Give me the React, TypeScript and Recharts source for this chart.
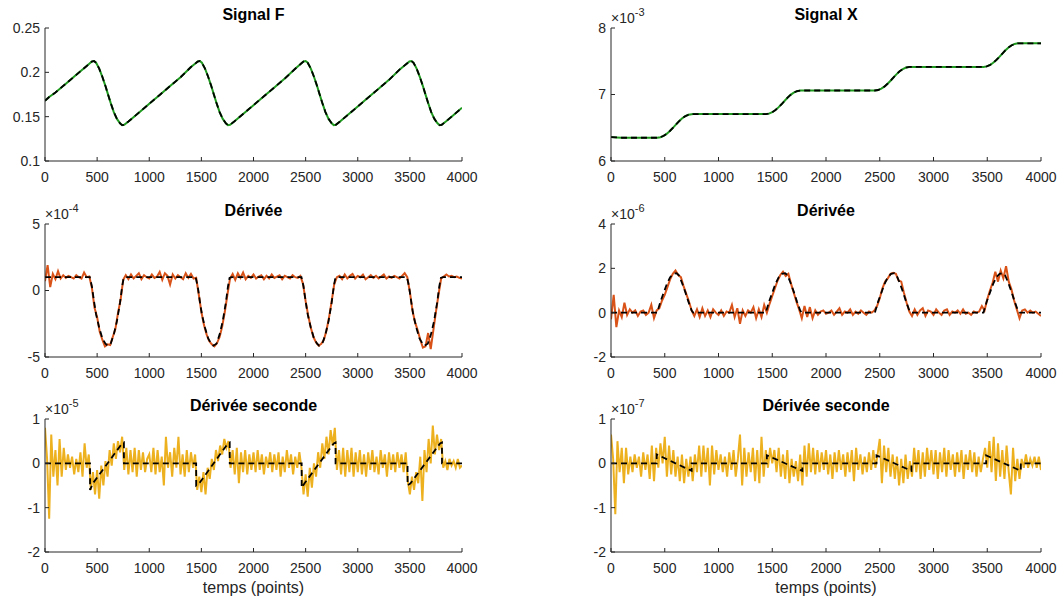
import React from "react";
import { LineChart, Line, XAxis, YAxis } from "recharts";

const xTicks = [0, 500, 1000, 1500, 2000, 2500, 3000, 3500, 4000];

// Signal F (green measured + black dashed estimate share the same trace)
const signalFTimes = [
  0, 40, 100, 200, 300, 400,
  430, 450, 470, 490, 520, 550, 580, 600, 630, 660, 690, 720, 740, 760, 800,
  900, 1000, 1100, 1200, 1300, 1400,
  1445, 1465, 1485, 1505, 1535, 1565, 1595, 1615, 1645, 1675, 1705, 1735, 1755, 1775, 1815,
  1900, 2000, 2100, 2200, 2300, 2400,
  2460, 2480, 2500, 2520, 2550, 2580, 2610, 2630, 2660, 2690, 2720, 2750, 2770, 2790, 2830,
  2900, 3000, 3100, 3200, 3300, 3400,
  3475, 3495, 3515, 3535, 3565, 3595, 3625, 3645, 3675, 3705, 3735, 3765, 3785, 3805, 3845,
  3900, 4000,
];
const signalFValues = [
  0.168, 0.1722, 0.1772, 0.1872, 0.1972, 0.2072,
  0.2102, 0.2122, 0.2128, 0.2108, 0.2042, 0.195, 0.1845, 0.1768, 0.1655, 0.1552, 0.1475, 0.1425, 0.1405, 0.1408, 0.1445,
  0.1545, 0.1645, 0.1745, 0.1845, 0.1945, 0.206,
  0.2102, 0.2122, 0.2128, 0.2108, 0.2042, 0.195, 0.1845, 0.1768, 0.1655, 0.1552, 0.1475, 0.1425, 0.1405, 0.1408, 0.1445,
  0.153, 0.163, 0.173, 0.183, 0.193, 0.204,
  0.2102, 0.2122, 0.2128, 0.2108, 0.2042, 0.195, 0.1845, 0.1768, 0.1655, 0.1552, 0.1475, 0.1425, 0.1405, 0.1408, 0.1445,
  0.1515, 0.1615, 0.1715, 0.1815, 0.1915, 0.203,
  0.2102, 0.2122, 0.2128, 0.2108, 0.2042, 0.195, 0.1845, 0.1768, 0.1655, 0.1552, 0.1475, 0.1425, 0.1405, 0.1408, 0.1445,
  0.15, 0.16,
];

// Signal X (x1e-3)
const signalXTimes = [
  0, 50, 100,
  430, 460, 490, 520, 550, 580, 610, 630, 660, 690, 720, 750, 765,
  1440, 1470, 1500, 1530, 1560, 1590, 1620, 1640, 1670, 1700, 1730, 1760, 1775,
  2455, 2485, 2515, 2545, 2575, 2605, 2635, 2655, 2685, 2715, 2745, 2775, 2790,
  3465, 3495, 3525, 3555, 3585, 3615, 3645, 3665, 3695, 3725, 3755, 3785, 3800,
  4000,
];
const signalXValues = [
  6.36, 6.355, 6.35,
  6.35, 6.3575, 6.3785, 6.4115, 6.455, 6.505, 6.558, 6.593, 6.639, 6.673, 6.695, 6.704, 6.705,
  6.705, 6.7125, 6.7335, 6.7665, 6.81, 6.86, 6.913, 6.948, 6.994, 7.028, 7.05, 7.059, 7.06,
  7.06, 7.0675, 7.0885, 7.1215, 7.165, 7.215, 7.268, 7.303, 7.349, 7.383, 7.405, 7.414, 7.415,
  7.415, 7.4225, 7.4435, 7.4765, 7.52, 7.57, 7.623, 7.658, 7.704, 7.738, 7.76, 7.769, 7.77,
  7.77,
];

// Derivative of F (x1e-4): measured every 25 points, estimate as breakpoints
const derivFStep = 25;
const derivFMeasured = [
  0.7, 1.9, 0.25, 1.25, 0.85, 1.45, 0.9, 1.15, 0.95, 1.1,
  1.0, 0.9, 1.15, 1.0, 0.9, 1.35, 1.0, 1.05, 0.2, -1.3,
  -2.0, -3.1, -3.7, -4.2, -4.05, -4.1, -3.5, -2.9, -1.7, -0.7,
  0.8, 1.15, 0.85, 1.2, 0.9, 1.1, 1.3, 0.85, 1.15, 1.0,
  0.9, 1.2, 0.95, 1.05, 1.4, 0.8, 1.3, 1.1, 0.45, 1.2,
  0.9, 1.15, 1.0, 0.85, 1.3, 0.95, 1.25, 0.9, 0.95, -0.3,
  -1.6, -2.6, -3.3, -3.8, -4.05, -4.2, -3.95, -3.5, -2.7, -1.6,
  -0.3, 0.9, 1.25, 0.8, 1.3, 0.95, 1.35, 0.85, 1.1, 0.95,
  1.2, 0.9, 1.05, 1.15, 0.85, 1.1, 0.9, 1.2, 0.95, 1.05,
  1.15, 0.85, 1.1, 1.0, 0.9, 1.15, 1.0, 0.95, 1.1, 0.5,
  -0.8, -1.9, -2.8, -3.5, -3.9, -4.15, -4.0, -3.7, -3.0, -2.0,
  -0.8, 0.5, 1.0, 1.1, 0.85, 1.2, 0.9, 1.1, 1.25, 0.9,
  1.1, 1.0, 1.2, 0.85, 1.0, 1.15, 0.95, 1.1, 0.9, 1.05,
  1.2, 0.9, 1.05, 0.95, 1.1, 1.0, 0.9, 1.1, 1.3, 1.0,
  -0.1, -1.5, -2.4, -3.0, -3.7, -4.3, -4.2, -3.2, -4.4, -3.0,
  -1.6, -0.3, 0.9, 1.05, 1.2, 1.05, 1.1, 1.0, 1.05, 0.95,
  0.9,
];
const derivFEstTimes = [
  0,
  430, 450, 470, 490, 520, 550, 580, 600, 630, 660, 690, 720, 740, 755, 775,
  1445, 1465, 1485, 1505, 1535, 1565, 1595, 1615, 1645, 1675, 1705, 1735, 1755, 1770, 1790,
  2460, 2480, 2500, 2520, 2550, 2580, 2610, 2630, 2660, 2690, 2720, 2750, 2770, 2785, 2805,
  3472, 3492, 3512, 3532, 3562, 3592, 3622, 3642, 3672, 3702, 3732, 3762, 3782, 3797, 3817,
  4000,
];
const derivFEstValues = [
  1,
  1.0, 0.3, -0.8, -1.8, -2.8, -3.6, -4.0, -4.15, -4.0, -3.3, -2.3, -0.9, 0.3, 0.95, 1.0,
  1.0, 0.3, -0.8, -1.8, -2.8, -3.6, -4.0, -4.15, -4.0, -3.3, -2.3, -0.9, 0.3, 0.95, 1.0,
  1.0, 0.3, -0.8, -1.8, -2.8, -3.6, -4.0, -4.15, -4.0, -3.3, -2.3, -0.9, 0.3, 0.95, 1.0,
  1.0, 0.3, -0.8, -1.8, -2.8, -3.6, -4.0, -4.15, -4.0, -3.3, -2.3, -0.9, 0.3, 0.95, 1.0,
  1,
];

// Derivative of X (x1e-6)
const derivXStep = 25;
const derivXMeasured = [
  -0.3, 0.8, -0.65, 0.1, -0.2, 0.45, -0.1, 0.15, 0.0, 0.1,
  -0.15, 0.05, 0.1, -0.1, 0.0, 0.35, -0.25, 0.1, 0.2, 0.55,
  0.8, 1.15, 1.5, 1.75, 1.9, 1.7, 1.6, 1.2, 0.85, 0.5,
  0.1, -0.15, 0.15, -0.2, 0.2, -0.15, 0.1, -0.2, 0.15, 0.0,
  -0.1, 0.1, -0.15, 0.05, 0.0, 0.35, -0.2, 0.2, -0.5, 0.1,
  -0.15, 0.1, 0.0, 0.25, -0.25, 0.15, -0.2, 0.35, 0.0, 0.4,
  0.75, 1.1, 1.45, 1.7, 1.85, 1.65, 1.75, 1.3, 0.9, 0.5,
  0.15, -0.25, 0.3, -0.2, 0.25, -0.25, 0.1, -0.1, 0.05, 0.1,
  -0.05, 0.0, 0.1, -0.1, 0.05, 0.2, -0.1, 0.05, 0.0, 0.15,
  -0.1, 0.05, -0.05, 0.1, 0.0, -0.1, 0.05, 0.0, 0.1, 0.3,
  0.65, 1.1, 1.4, 1.55, 1.75, 1.8, 1.75, 1.45, 1.4, 0.9,
  0.45, 0.05, -0.15, 0.15, -0.1, 0.1, 0.2, -0.15, 0.1, 0.05,
  -0.1, 0.15, 0.0, -0.1, 0.1, 0.15, -0.1, 0.05, 0.0, 0.1,
  -0.05, 0.15, -0.05, 0.0, -0.1, 0.05, 0.0, 0.05, 0.3, 0.1,
  0.6, 1.0, 1.35, 1.85, 1.4, 1.9, 1.55, 2.1, 1.4, 1.05,
  0.55, 0.15, -0.25, 0.1, 0.15, 0.0, 0.1, 0.0, 0.05, -0.05,
  -0.15,
];
const derivXEstTimes = [
  0,
  430, 460, 490, 520, 550, 580, 610, 630, 660, 690, 720, 750, 765,
  1440, 1470, 1500, 1530, 1560, 1590, 1620, 1640, 1670, 1700, 1730, 1760, 1775,
  2455, 2485, 2515, 2545, 2575, 2605, 2635, 2655, 2685, 2715, 2745, 2775, 2790,
  3465, 3495, 3525, 3555, 3585, 3615, 3645, 3665, 3695, 3725, 3755, 3785, 3800,
  4000,
];
const derivXEstValues = [
  0,
  0, 0.5, 0.9, 1.3, 1.6, 1.75, 1.78, 1.7, 1.35, 0.95, 0.5, 0.1, 0,
  0, 0.5, 0.9, 1.3, 1.6, 1.75, 1.78, 1.7, 1.35, 0.95, 0.5, 0.1, 0,
  0, 0.5, 0.9, 1.3, 1.6, 1.75, 1.78, 1.7, 1.35, 0.95, 0.5, 0.1, 0,
  0, 0.5, 0.9, 1.3, 1.6, 1.75, 1.78, 1.7, 1.35, 0.95, 0.5, 0.1, 0,
  0,
];

// Second derivative of F (x1e-5), measured every 20 points
const deriv2FStep = 20;
const deriv2FMeasured = [
  0.8, 0.1, -1.25, 0.65, -0.3, 0.3, -0.5, 0.55, -0.3, 0.35,
  -0.15, 0.2, -0.1, 0.15, -0.25, 0.1, -0.2, 0.25, -0.3, 0.45,
  -0.1, 0.2, -0.6, -0.2, -0.7, -0.15, -0.8, -0.05, -0.5, 0.05,
  -0.3, 0.3, -0.05, 0.45, 0.1, 0.5, 0.25, 0.6, -0.15, 0.35,
  -0.25, 0.3, -0.2, 0.35, -0.3, 0.3, -0.15, 0.25, -0.2, 0.1,
  0.2, -0.2, 0.35, -0.25, 0.3, -0.2, 0.15, -0.5, 0.6, -0.1,
  0.25, -0.3, 0.35, -0.1, 0.6, -0.25, 0.2, -0.3, 0.3, -0.2,
  0.25, -0.1, 0.2, -0.6, -0.3, -0.65, -0.2, -0.7, -0.1, -0.35,
  0.1, -0.15, 0.3, 0.05, 0.4, 0.2, 0.55, 0.35, 0.5, -0.1,
  0.3, -0.25, 0.35, -0.45, 0.25, -0.2, 0.3, -0.25, 0.2, -0.15,
  0.25, -0.2, 0.3, -0.15, 0.2, -0.25, 0.15, -0.1, 0.25, -0.2,
  0.2, -0.15, 0.25, -0.3, 0.15, -0.2, 0.3, -0.1, 0.2, -0.25,
  0.15, -0.1, 0.25, -0.1, -0.7, -0.25, -0.75, -0.1, -0.55, 0.0,
  -0.3, 0.25, -0.1, 0.45, 0.1, 0.6, 0.2, 0.75, 0.4, 0.8,
  -0.15, 0.3, -0.25, 0.35, -0.3, 0.3, -0.2, 0.35, -0.3, 0.25,
  -0.2, 0.3, -0.25, 0.2, -0.3, 0.25, -0.15, 0.3, -0.2, 0.15,
  -0.25, 0.3, -0.1, 0.2, -0.3, 0.25, -0.15, 0.2, -0.2, 0.25,
  -0.1, 0.2, -0.2, 0.25, -0.4, -0.7, -0.3, -0.6, -0.2, -0.45,
  0.15, -0.85, 0.3, -0.2, 0.55, 0.0, 0.85, 0.2, 0.65, 0.3,
  0.55, -0.1, 0.05, -0.15, 0.1, -0.05, 0.05, -0.1, 0.1, -0.1,
  -0.05,
];
const deriv2FEstTimes = [
  0, 432, 432, 460, 740, 757, 757,
  1450, 1450, 1480, 1755, 1772, 1772,
  2462, 2462, 2490, 2770, 2787, 2787,
  3478, 3478, 3506, 3790, 3808, 3808, 4000,
];
const deriv2FEstValues = [
  0, 0, -0.6, -0.45, 0.45, 0.47, 0,
  0, -0.5, -0.45, 0.45, 0.47, 0,
  0, -0.55, -0.45, 0.45, 0.47, 0,
  0, -0.5, -0.45, 0.45, 0.47, 0, 0,
];

// Second derivative of X (x1e-7)
const deriv2XStep = 20;
const deriv2XMeasured = [
  0.65, 0.1, -1.15, 0.5, -0.2, 0.35, -0.45, 0.35, -0.25, 0.15,
  -0.2, 0.2, -0.1, 0.15, -0.3, 0.25, -0.15, 0.2, -0.35, 0.4,
  -0.4, 0.35, -0.1, 0.45, 0.0, 0.6, -0.3, 0.4, -0.25, 0.3,
  -0.3, 0.15, -0.4, 0.2, -0.45, 0.1, -0.3, 0.15, -0.4, 0.2,
  -0.2, 0.4, -0.3, 0.4, -0.2, 0.35, -0.5, 0.4, -0.25, 0.3,
  -0.15, 0.2, -0.2, 0.15, -0.3, 0.25, -0.15, 0.3, -0.3, 0.1,
  0.65, -0.5, 0.35, -0.3, 0.25, -0.2, 0.35, -0.4, 0.3, -0.45,
  0.6, -0.3, 0.3, -0.1, 0.35, 0.0, 0.3, -0.2, 0.35, -0.3,
  0.2, -0.35, 0.3, -0.45, 0.1, -0.3, 0.05, -0.4, 0.2, -0.5,
  0.4, -0.3, 0.45, -0.2, 0.35, -0.25, 0.3, -0.2, 0.25, -0.15,
  0.3, -0.25, 0.2, -0.35, 0.25, -0.2, 0.3, -0.15, 0.2, -0.3,
  0.25, -0.2, 0.3, -0.4, 0.35, -0.15, 0.2, -0.25, 0.15, -0.2,
  0.25, -0.15, 0.3, -0.1, 0.2, 0.55, -0.45, 0.4, -0.2, 0.35,
  -0.3, 0.2, -0.35, 0.15, -0.5, 0.1, -0.45, 0.2, -0.35, 0.05,
  -0.3, 0.35, -0.2, 0.3, -0.35, 0.25, -0.3, 0.35, -0.15, 0.3,
  -0.25, 0.3, -0.35, 0.25, -0.2, 0.35, -0.3, 0.3, -0.15, 0.2,
  -0.3, 0.25, -0.2, 0.3, -0.35, 0.2, -0.15, 0.3, -0.2, 0.25,
  -0.3, 0.15, -0.2, 0.1, 0.35, -0.1, 0.5, -0.2, 0.6, -0.4,
  0.45, -0.3, 0.3, -0.35, 0.4, -0.2, -0.7, 0.35, -0.4, 0.1,
  -0.35, 0.1, -0.1, 0.2, -0.1, 0.1, -0.05, 0.15, -0.1, 0.15,
  -0.15,
];
const deriv2XEstTimes = [
  0, 425, 425, 750, 750,
  1450, 1450, 1780, 1780,
  2470, 2470, 2795, 2795,
  3490, 3490, 3812, 3812, 4000,
];
const deriv2XEstValues = [
  0, 0, 0.2, -0.17, 0,
  0, 0.18, -0.17, 0,
  0, 0.18, -0.17, 0,
  0, 0.18, -0.17, 0, 0,
];

type Pt = { t: number; v: number };
const pairUp = (ts: number[], vs: number[]): Pt[] => ts.map((t, i) => ({ t, v: vs[i] }));
const sampled = (step: number, vs: number[]): Pt[] => vs.map((v, i) => ({ t: i * step, v }));

const GREEN = "#1f9a1f";
const ORANGE = "#D95319";
const YELLOW = "#EDB120";
const AXIS = "#262626";
const FONT = '"Liberation Sans", Arial, Helvetica, sans-serif';

const Y_AXIS_W = 50;
const PAD_TOP = 12;
const PAD_RIGHT = 30;
const X_AXIS_H = 30;
const PLOT_H = 133;

type Series = { points: Pt[]; color: string; dashed?: boolean };

function Panel({
  x,
  y,
  w,
  domain,
  ticks,
  series,
  title,
  exp,
  xLabel,
}: {
  x: number;
  y: number;
  w: number;
  domain: [number, number];
  ticks: number[];
  series: Series[];
  title: string;
  exp?: string;
  xLabel?: string;
}) {
  return (
    <>
      <div style={{ position: "absolute", left: x - Y_AXIS_W, top: y - PAD_TOP }}>
        <LineChart
          width={Y_AXIS_W + w + PAD_RIGHT}
          height={PAD_TOP + PLOT_H + X_AXIS_H}
          margin={{ top: PAD_TOP, right: PAD_RIGHT, bottom: 0, left: 0 }}
        >
          <XAxis
            xAxisId="b"
            dataKey="t"
            type="number"
            domain={[0, 4000]}
            ticks={xTicks}
            interval={0}
            allowDataOverflow
            height={X_AXIS_H}
            tickSize={-4}
            tickMargin={15}
            stroke={AXIS}
            tick={{ fill: AXIS, fontSize: 14, fontFamily: FONT }}
          />
          <XAxis
            xAxisId="t"
            orientation="top"
            dataKey="t"
            type="number"
            domain={[0, 4000]}
            ticks={xTicks}
            interval={0}
            allowDataOverflow
            height={0}
            tickSize={-4}
            tick={false}
            stroke={AXIS}
          />
          <YAxis
            yAxisId="l"
            type="number"
            domain={domain}
            ticks={ticks}
            interval={0}
            allowDataOverflow
            width={Y_AXIS_W}
            tickSize={-4}
            tickMargin={9}
            stroke={AXIS}
            tick={{ fill: AXIS, fontSize: 14, fontFamily: FONT }}
          />
          <YAxis
            yAxisId="r"
            orientation="right"
            type="number"
            domain={domain}
            ticks={ticks}
            interval={0}
            allowDataOverflow
            width={0}
            tickSize={-4}
            tick={false}
            stroke={AXIS}
          />
          {series.map((s, i) => (
            <Line
              key={i}
              xAxisId="b"
              yAxisId="l"
              data={s.points}
              dataKey="v"
              type="linear"
              stroke={s.color}
              strokeWidth={s.dashed ? 1.8 : 2}
              strokeDasharray={s.dashed ? "6 4" : undefined}
              dot={false}
              activeDot={false}
              isAnimationActive={false}
            />
          ))}
        </LineChart>
      </div>
      <div
        style={{
          position: "absolute",
          left: x,
          width: w,
          top: y - 22,
          textAlign: "center",
          fontWeight: "bold",
          fontSize: 16,
          lineHeight: "18px",
          color: "#000",
        }}
      >
        {title}
      </div>
      {exp && (
        <div
          style={{
            position: "absolute",
            left: x,
            top: y - 18,
            fontSize: 14,
            lineHeight: "16px",
            color: AXIS,
            whiteSpace: "nowrap",
          }}
        >
          ×10
          <span style={{ fontSize: 11, position: "relative", top: -7 }}>{exp}</span>
        </div>
      )}
      {xLabel && (
        <div
          style={{
            position: "absolute",
            left: x,
            width: w,
            top: y + PLOT_H + 27,
            textAlign: "center",
            fontSize: 16,
            lineHeight: "18px",
            color: AXIS,
          }}
        >
          {xLabel}
        </div>
      )}
    </>
  );
}

const LEFT_X = 45;
const LEFT_W = 417;
const RIGHT_X = 611;
const RIGHT_W = 430;
const ROW_Y = [28, 224, 419];

export default function App() {
  return (
    <div
      style={{
        position: "absolute",
        left: 0,
        top: 0,
        width: 1064,
        height: 605,
        background: "#fff",
        fontFamily: FONT,
        overflow: "hidden",
      }}
    >
      <Panel
        x={LEFT_X}
        y={ROW_Y[0]}
        w={LEFT_W}
        domain={[0.1, 0.25]}
        ticks={[0.1, 0.15, 0.2, 0.25]}
        title="Signal F"
        series={[
          { points: pairUp(signalFTimes, signalFValues), color: GREEN },
          { points: pairUp(signalFTimes, signalFValues), color: "#000", dashed: true },
        ]}
      />
      <Panel
        x={RIGHT_X}
        y={ROW_Y[0]}
        w={RIGHT_W}
        domain={[6, 8]}
        ticks={[6, 7, 8]}
        title="Signal X"
        exp="-3"
        series={[
          { points: pairUp(signalXTimes, signalXValues), color: GREEN },
          { points: pairUp(signalXTimes, signalXValues), color: "#000", dashed: true },
        ]}
      />
      <Panel
        x={LEFT_X}
        y={ROW_Y[1]}
        w={LEFT_W}
        domain={[-5, 5]}
        ticks={[-5, 0, 5]}
        title="Dérivée"
        exp="-4"
        series={[
          { points: sampled(derivFStep, derivFMeasured), color: ORANGE },
          { points: pairUp(derivFEstTimes, derivFEstValues), color: "#000", dashed: true },
        ]}
      />
      <Panel
        x={RIGHT_X}
        y={ROW_Y[1]}
        w={RIGHT_W}
        domain={[-2, 4]}
        ticks={[-2, 0, 2, 4]}
        title="Dérivée"
        exp="-6"
        series={[
          { points: sampled(derivXStep, derivXMeasured), color: ORANGE },
          { points: pairUp(derivXEstTimes, derivXEstValues), color: "#000", dashed: true },
        ]}
      />
      <Panel
        x={LEFT_X}
        y={ROW_Y[2]}
        w={LEFT_W}
        domain={[-2, 1]}
        ticks={[-2, -1, 0, 1]}
        title="Dérivée seconde"
        exp="-5"
        xLabel="temps (points)"
        series={[
          { points: sampled(deriv2FStep, deriv2FMeasured), color: YELLOW },
          { points: pairUp(deriv2FEstTimes, deriv2FEstValues), color: "#000", dashed: true },
        ]}
      />
      <Panel
        x={RIGHT_X}
        y={ROW_Y[2]}
        w={RIGHT_W}
        domain={[-2, 1]}
        ticks={[-2, -1, 0, 1]}
        title="Dérivée seconde"
        exp="-7"
        xLabel="temps (points)"
        series={[
          { points: sampled(deriv2XStep, deriv2XMeasured), color: YELLOW },
          { points: pairUp(deriv2XEstTimes, deriv2XEstValues), color: "#000", dashed: true },
        ]}
      />
    </div>
  );
}
